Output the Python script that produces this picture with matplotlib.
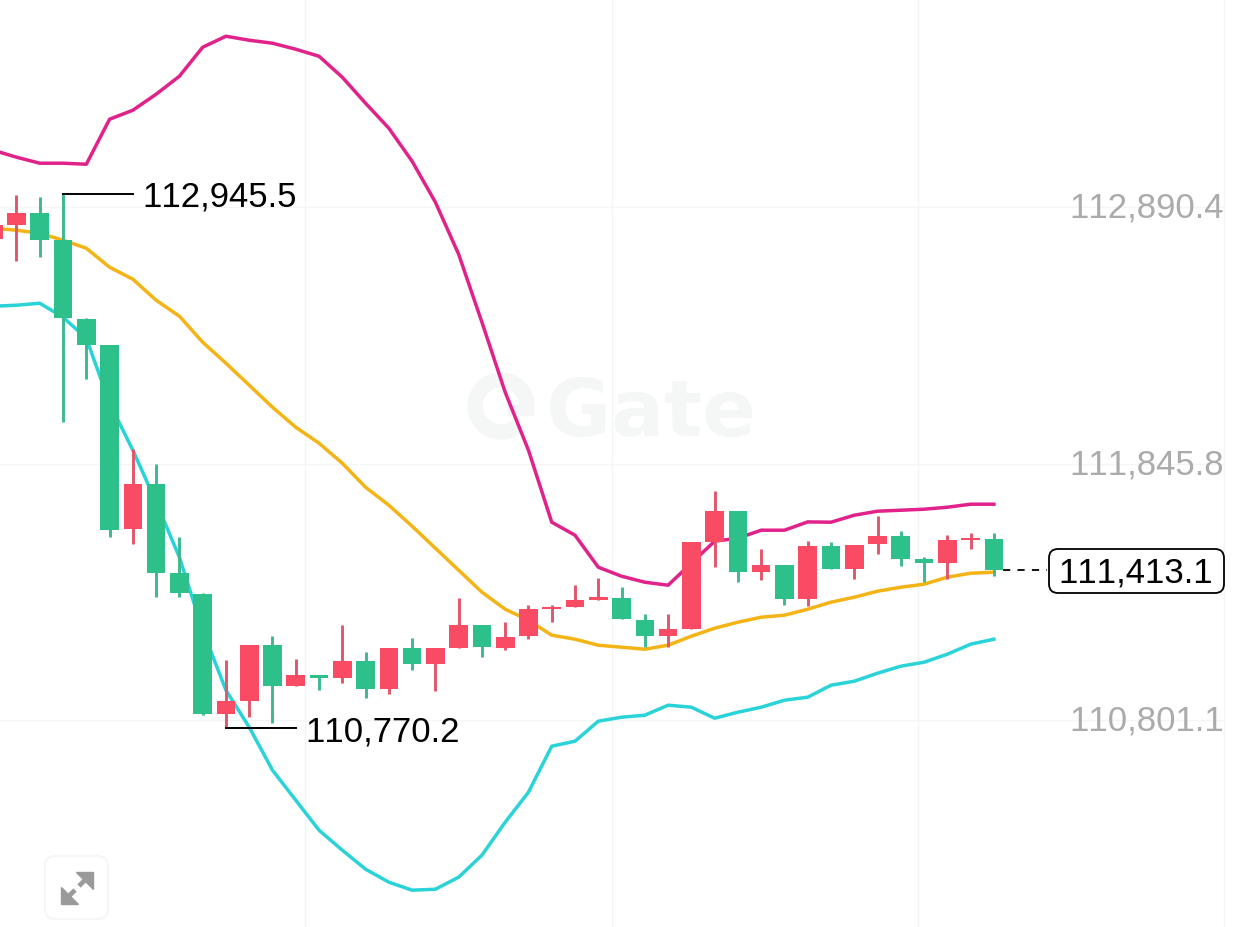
import matplotlib
matplotlib.use('Agg')
import matplotlib.pyplot as plt
from matplotlib.patches import FancyBboxPatch, Polygon, Rectangle, Wedge
from matplotlib.transforms import IdentityTransform
import numpy as np

plt.rcParams['font.family'] = ['Liberation Sans', 'DejaVu Sans']
plt.rcParams['text.kerning_factor'] = 12

# first candle is cut off by the left edge
first_idx = -1
opens = [112760.1, 112819.9, 112867.2, 112756.0, 112435.5, 112328.4, 111580.3, 111765.2, 111398.7, 111317.2, 110825.6,
         110881.4, 111109.5, 110939.7, 110987.3, 110975.1, 111041.5, 110928.7, 111094.4, 111032.1, 111095.7, 111188.1,
         111095.7, 111143.3, 111254.5, 111262.6, 111291.1, 111300.9, 111211.3, 111143.3, 111173.0, 111527.3, 111653.6,
         111403.9, 111432.4, 111295.2, 111509.8, 111419.0, 111519.2, 111551.8, 111456.9, 111441.8, 111534.2, 111538.3]
closes = [112817.1, 112867.2, 112756.0, 112439.6, 112328.4, 111577.8, 111765.2, 111401.1, 111319.7, 110825.6, 110878.6,
          111109.5, 110939.7, 110987.3, 110975.1, 111041.5, 110928.7, 111095.7, 111032.1, 111094.4, 111189.3, 111097.3,
          111140.5, 111254.5, 111261.4, 111289.9, 111303.3, 111213.8, 111143.3, 111171.8, 111526.1, 111653.6, 111405.2,
          111432.4, 111295.2, 111509.8, 111419.0, 111516.7, 111551.8, 111458.1, 111441.8, 111535.5, 111545.2, 111413.1]
highs = [112817.1, 112939.3, 112931.1, 112945.5, 112438.3, 112328.4, 111904.8, 111843.8, 111546.5, 111320.0, 111045.5,
         111109.5, 111143.3, 111050.8, 110987.3, 111188.1, 111078.1, 111095.7, 111138.0, 111094.4, 111300.9, 111188.1,
         111201.6, 111269.5, 111272.4, 111352.2, 111382.3, 111344.1, 111235.7, 111235.7, 111526.1, 111735.0, 111653.6,
         111497.6, 111432.4, 111529.0, 111527.3, 111516.7, 111632.0, 111572.1, 111467.9, 111554.6, 111565.6, 111564.0]
lows = [112760.1, 112670.5, 112686.8, 112016.0, 112189.9, 111547.8, 111518.0, 111303.3, 111303.3, 110821.6, 110770.2,
        110814.7, 110790.2, 110939.7, 110926.2, 110954.7, 110889.6, 110907.1, 111004.8, 110919.3, 111094.4, 111059.0,
        111085.1, 111132.3, 111200.3, 111262.6, 111291.1, 111213.8, 111099.7, 111099.7, 111173.0, 111425.5, 111363.2,
        111374.2, 111270.8, 111265.5, 111418.0, 111375.5, 111477.2, 111428.4, 111363.2, 111375.5, 111497.6, 111388.9]

boll_upper = [113122.5, 113094.0, 113069.6, 113069.6, 113065.5, 113248.8, 113285.4, 113350.6, 113423.9, 113542.0, 113586.8,
              113570.5, 113558.3, 113533.8, 113505.3, 113419.8, 113313.9, 113212.1, 113077.7, 112910.8, 112699.0, 112422.1,
              112137.0, 111900.8, 111607.6, 111554.6, 111424.3, 111387.6, 111363.2, 111351.0, 111440.6, 111530.2, 111542.4,
              111575.0, 111575.0, 111608.8, 111607.6, 111636.1, 111652.4, 111656.4, 111660.5, 111668.6, 111680.9, 111680.9]
boll_mid = [112804.9, 112796.7, 112784.5, 112756.0, 112723.4, 112646.0, 112597.2, 112511.6, 112446.5, 112340.6, 112255.1,
            112165.5, 112075.9, 111994.4, 111929.3, 111847.8, 111750.1, 111676.8, 111591.3, 111501.7, 111412.1, 111322.5,
            111253.2, 111208.4, 111147.4, 111131.1, 111106.6, 111098.5, 111090.3, 111106.6, 111143.3, 111175.9, 111200.3,
            111220.7, 111228.8, 111253.2, 111281.8, 111302.1, 111326.6, 111342.8, 111355.1, 111383.6, 111399.9, 111403.9]
boll_lower = [112487.2, 112491.3, 112499.4, 112442.4, 112356.9, 112092.2, 111900.8, 111689.0, 111465.0, 111167.7, 110923.4,
              110772.7, 110597.6, 110475.4, 110353.2, 110271.8, 110194.4, 110141.5, 110108.9, 110112.9, 110161.8, 110251.4,
              110385.8, 110508.0, 110695.3, 110715.7, 110797.1, 110813.4, 110821.6, 110862.3, 110854.1, 110809.3, 110833.8,
              110854.1, 110882.6, 110894.9, 110943.7, 110960.0, 110992.6, 111021.1, 111037.4, 111070.0, 111110.7, 111131.1]

price_ticks = [112890.4, 111845.8, 110801.1]
time_grid = [12.4, 25.6, 38.74, 51.9]
high_price = 112945.5
low_price = 110770.2
last_price = 111413.1

RED = '#F94B63'
GREEN = '#2DC08A'
RED_WICK = '#E2566C'
GREEN_WICK = '#3DB890'
GRID = '#F4F5F6'
H = 928
Y0, Y1 = 109959.0, 113738.4


def px(x, y):
    # screen pixels measured from the top left
    return x, H - y


fig = plt.figure(figsize=(12.38, 9.28), dpi=100)
ax = fig.add_axes([0, 0, 1, 1])
ax.set_xlim(-0.709, 52.49)
ax.set_ylim(Y0, Y1)
ax.set_axis_off()

# watermark
wm = '#F5F6F6'
ident = IdentityTransform()
ax.add_patch(Wedge(px(501, 407), 33, 0, 315, width=14, color=wm, transform=ident, zorder=0))
ax.add_patch(Rectangle(px(508, 416), 25, 10, color=wm, transform=ident, zorder=0))
fig.text(651 / 1238, 1 - 436 / H, 'Gate', fontsize=57, fontweight='bold', family='DejaVu Sans', color=wm,
         ha='center', va='baseline', zorder=0)

ax.hlines(price_ticks, -0.709, time_grid[-1], color=GRID, lw=1, zorder=1)
ax.vlines(time_grid, Y0, Y1, color=GRID, lw=1, zorder=1)

idx = np.arange(first_idx, first_idx + len(opens))
ax.plot(idx, boll_upper, color='#E0228A', lw=2.5, zorder=2, solid_joinstyle='round')
ax.plot(idx, boll_mid, color='#F5B416', lw=2.5, zorder=2, solid_joinstyle='round')
ax.plot(idx, boll_lower, color='#29D3D8', lw=2.5, zorder=2, solid_joinstyle='round')

opens = np.array(opens)
closes = np.array(closes)
up = closes >= opens
ax.vlines(idx, lows, highs, colors=[RED_WICK if u else GREEN_WICK for u in up], lw=2.1, zorder=3)
ax.bar(idx, np.abs(closes - opens), bottom=np.minimum(opens, closes), width=0.8,
       color=[RED if u else GREEN for u in up], zorder=4)

for p in price_ticks:
    ax.text(time_grid[-1], p, f'{p:,.1f}', color='#ABABAB', fontsize=25, ha='right', va='center', zorder=5)

# high and low markers
ax.plot([2, 5], [high_price, high_price], color='black', lw=1.4, zorder=5)
ax.annotate(f'{high_price:,.1f}', (5, high_price), xytext=(7, -1.5), textcoords='offset points',
            fontsize=25, color='black', va='center', zorder=5)
ax.plot([9, 12], [low_price, low_price], color='black', lw=1.4, zorder=5)
ax.annotate(f'{low_price:,.1f}', (12, low_price), xytext=(7, -2.5), textcoords='offset points',
            fontsize=25, color='black', va='center', zorder=5)

# last price
ax.plot([42.4, 44.3], [last_price, last_price], color='black', lw=1.3, dashes=(4, 4), zorder=5)
ax.add_patch(FancyBboxPatch(px(1057, 586), 159, 28, boxstyle='round,pad=8,rounding_size=9', fc='white', ec='black',
                            lw=1.3, transform=ident, zorder=6))
ax.annotate(f'{last_price:,.1f}', (51.42, last_price), xytext=(0, -1.5), textcoords='offset points',
            color='black', fontsize=25, ha='right', va='center', zorder=7)

# expand button
ax.add_patch(FancyBboxPatch(px(52, 913), 49, 49, boxstyle='round,pad=7,rounding_size=10', fc='white', ec='#F5F6F6',
                            lw=1.5, transform=ident, zorder=5))
icon = '#9A9A9A'
ax.add_patch(Polygon([px(76, 873), px(93, 873), px(93, 890)], color=icon, transform=ident, zorder=6))
ax.add_patch(Polygon([px(61, 888), px(61, 905), px(78, 905)], color=icon, transform=ident, zorder=6))
ax.plot(*zip(px(86, 880), px(79, 887)), color=icon, lw=3.4, transform=ident, zorder=6, solid_capstyle='butt')
ax.plot(*zip(px(68, 898), px(75, 891)), color=icon, lw=3.4, transform=ident, zorder=6, solid_capstyle='butt')

fig.savefig('out.png', dpi=100, facecolor='white')
